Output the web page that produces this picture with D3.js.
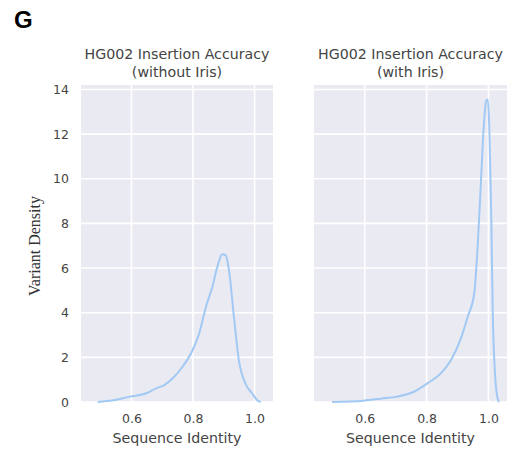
<!DOCTYPE html>
<html><head><meta charset="utf-8">
<script src="https://cdn.jsdelivr.net/npm/d3@7"></script>
<style>body{margin:0;background:#fff}svg{display:block}</style>
</head><body><svg id="c" width="510" height="449"></svg>
<script>
const panelTitles = [["HG002 Insertion Accuracy","(without Iris)"],["HG002 Insertion Accuracy","(with Iris)"]];
const xTicks = [0.6, 0.8, 1.0];
const yTicks = [0, 2, 4, 6, 8, 10, 12, 14];
const withoutX = [0.49,0.54,0.595,0.648,0.68,0.707,0.734,0.766,0.799,0.82,0.842,0.863,0.879,0.895,0.906,0.917,0.933,0.949,0.97,0.992,1.008,1.02];
const withoutY = [0,0.08,0.24,0.39,0.61,0.76,1.06,1.58,2.33,3.07,4.26,5.16,6.05,6.62,6.58,5.9,3.82,1.88,0.84,0.39,0.09,0];
const withX = [0.494,0.597,0.651,0.705,0.759,0.803,0.846,0.879,0.911,0.933,0.954,0.965,0.976,0.984,0.993,0.998,1.003,1.009,1.014,1.02,1.031,1.035];
const withY = [0,0.06,0.15,0.24,0.46,0.84,1.28,1.88,2.85,3.82,4.86,6.95,9.93,12.17,13.5,13.55,12.17,8.44,3.97,1.58,0.09,0];

const svg = d3.select("#c");
const font = "DejaVu Sans, sans-serif";
svg.append("text").attr("x",14).attr("y",28).attr("font-family","Liberation Sans, Arial, sans-serif")
  .attr("font-weight","bold").attr("font-size",24).attr("fill","#000").text("G");

const y = d3.scaleLinear().domain([0,14.2]).range([402,85]);
const panels = [
  {x0:81, x1:273, xs:withoutX, ys:withoutY, showY:true},
  {x0:314, x1:507, xs:withX, ys:withY, showY:false}
];
panels.forEach((p,i)=>{
  const x = d3.scaleLinear().domain([0.436,1.06]).range([p.x0,p.x1]);
  const g = svg.append("g");
  g.append("rect").attr("x",p.x0).attr("y",y.range()[1]).attr("width",p.x1-p.x0)
    .attr("height",y.range()[0]-y.range()[1]).attr("fill","#eaeaf2");
  g.selectAll(".gx").data(xTicks).join("line").attr("x1",d=>x(d)).attr("x2",d=>x(d))
    .attr("y1",y.range()[0]).attr("y2",y.range()[1]).attr("stroke","#fff").attr("stroke-width",1.6);
  g.selectAll(".gy").data(yTicks).join("line").attr("y1",d=>y(d)).attr("y2",d=>y(d))
    .attr("x1",p.x0).attr("x2",p.x1).attr("stroke","#fff").attr("stroke-width",1.6);
  const xa = d3.axisBottom(x).tickValues(xTicks).tickFormat(d3.format(".1f")).tickSize(0).tickPadding(12);
  const ax = g.append("g").attr("transform",`translate(0,${y.range()[0]})`).call(xa);
  ax.select(".domain").remove();
  ax.selectAll("text").attr("font-family",font).attr("font-size",12.5).attr("fill","#444");
  if(p.showY){
    const ya = d3.axisLeft(y).tickValues(yTicks).tickSize(0).tickPadding(12);
    const ay = g.append("g").attr("transform",`translate(${p.x0},0)`).call(ya);
    ay.select(".domain").remove();
    ay.selectAll("text").attr("font-family",font).attr("font-size",12.5).attr("fill","#444");
  }
  const line = d3.line().x(d=>x(d[0])).y(d=>y(d[1])).curve(d3.curveMonotoneX);
  g.append("path").datum(p.xs.map((v,k)=>[v,p.ys[k]])).attr("d",line)
    .attr("fill","none").attr("stroke","#a1c9f4").attr("stroke-width",2);
  const cx = (p.x0+p.x1)/2;
  g.append("text").attr("x",cx).attr("y",59).attr("text-anchor","middle").attr("font-family",font)
    .attr("font-size",14.2).attr("fill","#444").text(panelTitles[i][0]);
  g.append("text").attr("x",cx).attr("y",77).attr("text-anchor","middle").attr("font-family",font)
    .attr("font-size",14.2).attr("fill","#444").text(panelTitles[i][1]);
  g.append("text").attr("x",cx).attr("y",443).attr("text-anchor","middle").attr("font-family",font)
    .attr("font-size",14.2).attr("fill","#444").text("Sequence Identity");
});
svg.append("text").attr("transform","translate(40,246) rotate(-90)").attr("text-anchor","middle")
  .attr("font-family","Liberation Serif, Times New Roman, serif").attr("font-size",16).attr("fill","#333").text("Variant Density");
</script></body></html>
